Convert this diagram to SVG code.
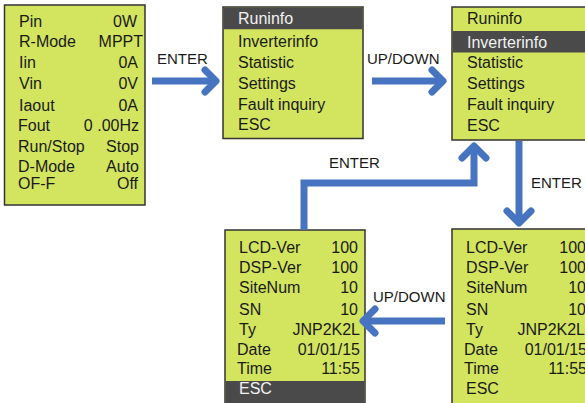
<svg xmlns="http://www.w3.org/2000/svg" width="585" height="403" viewBox="0 0 585 403">
<defs>
<style>
.box{fill:#D3E55F;stroke:#333;stroke-width:1.5}
.bar{fill:#4A4A4A}
.t{font-family:"Liberation Sans",Arial,sans-serif;font-size:16px;fill:#1a1a1a}
.w{fill:#F2F2F2}
.r{text-anchor:end}
.lbl{font-family:"Liberation Sans",Arial,sans-serif;font-size:15px;fill:#1a1a1a}
.arr{fill:none;stroke:#4674C1;stroke-width:7;stroke-linecap:round;stroke-linejoin:round}
.shaft{fill:none;stroke:#4674C1;stroke-width:7;stroke-linecap:butt;stroke-linejoin:miter}
</style>
</defs>
<rect width="585" height="403" fill="#fff"/>

<g id="status">
<rect class="box" x="4.5" y="5" width="140.5" height="200"/>
<text class="t" x="19" y="27">Pin</text><text class="t r" x="137" y="27">0W</text>
<text class="t" x="19" y="47">R-Mode</text><text class="t r" x="143" y="47">MPPT</text>
<text class="t" x="19" y="68">Iin</text><text class="t r" x="138" y="68">0A</text>
<text class="t" x="19" y="89">Vin</text><text class="t r" x="138" y="89">0V</text>
<text class="t" x="19" y="111">Iaout</text><text class="t r" x="138" y="111">0A</text>
<text class="t" x="18" y="131">Fout</text><text class="t r" x="139" y="131">0 .00Hz</text>
<text class="t" x="18" y="152">Run/Stop</text><text class="t r" x="139" y="152">Stop</text>
<text class="t" x="18" y="172">D-Mode</text><text class="t r" x="139" y="172">Auto</text>
<text class="t" x="18" y="189">OF-F</text><text class="t r" x="138" y="189">Off</text>
</g>

<g id="menu1">
<rect class="box" x="223" y="7" width="140" height="131.5"/>
<rect class="bar" x="223.75" y="7.75" width="138.5" height="21.5"/>
<text class="t w" x="238" y="24">Runinfo</text>
<text class="t" x="238" y="47">Inverterinfo</text>
<text class="t" x="238" y="68">Statistic</text>
<text class="t" x="238" y="89">Settings</text>
<text class="t" x="238" y="110">Fault inquiry</text>
<text class="t" x="238" y="130">ESC</text>
</g>

<g id="menu2">
<rect class="box" x="452" y="7" width="140" height="133"/>
<rect class="bar" x="452.75" y="31" width="138" height="21.5"/>
<text class="t" x="467" y="24">Runinfo</text>
<text class="t w" x="467" y="48">Inverterinfo</text>
<text class="t" x="467" y="68">Statistic</text>
<text class="t" x="467" y="89">Settings</text>
<text class="t" x="467" y="110">Fault inquiry</text>
<text class="t" x="467" y="131">ESC</text>
</g>

<g id="info1">
<rect class="box" x="225" y="230" width="140" height="180"/>
<rect class="bar" x="225.75" y="381" width="138.5" height="28"/>
<text class="t" x="239" y="253">LCD-Ver</text><text class="t r" x="358" y="253">100</text>
<text class="t" x="239" y="273">DSP-Ver</text><text class="t r" x="358" y="273">100</text>
<text class="t" x="239" y="293">SiteNum</text><text class="t r" x="358" y="293">10</text>
<text class="t" x="239" y="315">SN</text><text class="t r" x="358" y="315">10</text>
<text class="t" x="239" y="335">Ty</text><text class="t r" x="360" y="335">JNP2K2L</text>
<text class="t" x="237" y="355">Date</text><text class="t r" x="360" y="355">01/01/15</text>
<text class="t" x="237" y="374">Time</text><text class="t r" x="360" y="374">11:55</text>
<text class="t w" x="239" y="394">ESC</text>
</g>

<g id="info2">
<rect class="box" x="452" y="229" width="140" height="180"/>
<text class="t" x="466" y="253">LCD-Ver</text><text class="t r" x="586" y="253">100</text>
<text class="t" x="466" y="273">DSP-Ver</text><text class="t r" x="586" y="273">100</text>
<text class="t" x="466" y="293">SiteNum</text><text class="t r" x="586" y="293">10</text>
<text class="t" x="466" y="315">SN</text><text class="t r" x="586" y="315">10</text>
<text class="t" x="466" y="335">Ty</text><text class="t r" x="585" y="335">JNP2K2L</text>
<text class="t" x="464" y="355">Date</text><text class="t r" x="587" y="355">01/01/15</text>
<text class="t" x="464" y="374">Time</text><text class="t r" x="587" y="374">11:55</text>
<text class="t" x="466" y="394">ESC</text>
</g>

<g id="connectors">
<path class="shaft" d="M152,81 H214"/>
<path class="arr" d="M205,70 L216,81 L205,92"/>
<text class="lbl" x="157" y="64">ENTER</text>

<path class="shaft" d="M372,81 H441"/>
<path class="arr" d="M432,70 L443,81 L432,92"/>
<text class="lbl" x="367" y="64">UP/DOWN</text>

<path class="shaft" d="M304,230 V183 H474 V150"/>
<path class="arr" d="M462,158 L474,146 L486,158"/>
<text class="lbl" x="329" y="168">ENTER</text>

<path class="shaft" d="M519,141 V220"/>
<path class="arr" d="M507,211 L519,223 L531,211"/>
<text class="lbl" x="531" y="188">ENTER</text>

<path class="shaft" d="M445,321 H366"/>
<path class="arr" d="M375,309 L363,321 L375,333"/>
<text class="lbl" x="373" y="302">UP/DOWN</text>
</g>
</svg>
